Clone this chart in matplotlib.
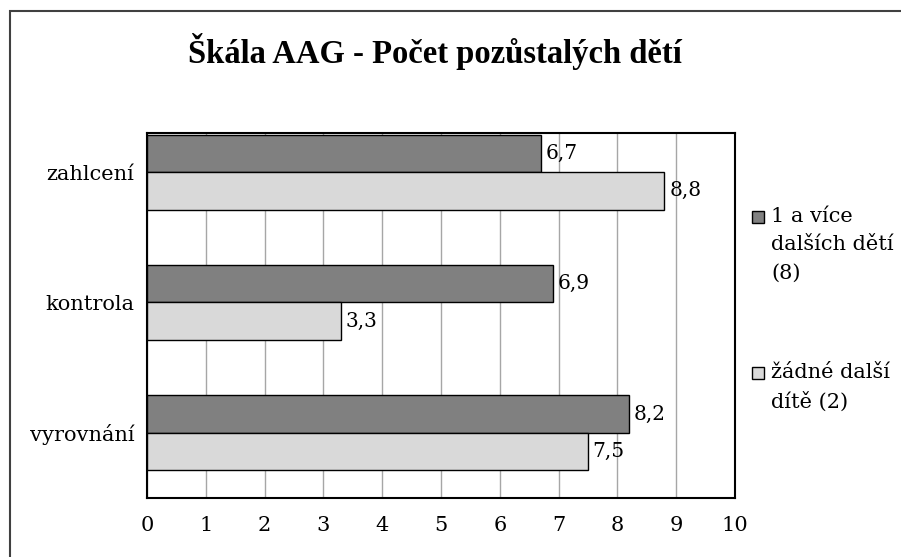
import matplotlib
matplotlib.use("Agg")
import matplotlib.pyplot as plt
from matplotlib.patches import Rectangle
import numpy as np

categories = ["zahlcení", "kontrola", "vyrovnání"]
series_names = ["1 a více\ndalších dětí\n(8)", "žádné další\ndítě (2)"]
values_more = [6.7, 6.9, 8.2]
values_none = [8.8, 3.3, 7.5]
xticks = [0, 1, 2, 3, 4, 5, 6, 7, 8, 9, 10]

colors = ["#808080", "#d9d9d9"]
FONT = "DejaVu Serif"

fig = plt.figure(figsize=(9.01, 5.57), dpi=100)
ax = fig.add_axes([147/901, 59/557, 588/901, 365/557])

y = np.arange(len(categories))
h = 0.287
for vals, off, col in [(values_more, -h/2, colors[0]), (values_none, h/2, colors[1])]:
    bars = ax.barh(y + off, vals, height=h, color=col, edgecolor="black", linewidth=1.0, zorder=3)
    for b, v in zip(bars, vals):
        ax.text(v + 0.08, b.get_y() + b.get_height()/2, f"{v:.1f}".replace(".", ","),
                va="center", ha="left", fontsize=14.5, family=FONT, zorder=4)

ax.set_xlim(0, 10)
ax.set_ylim(2.5, -0.3)
ax.set_xticks(xticks)
ax.set_xticklabels([str(t) for t in xticks], family=FONT, fontsize=15)
ax.set_yticks(y)
ax.set_yticklabels(categories, family=FONT, fontsize=15)
ax.tick_params(axis="x", length=0, pad=13)
ax.tick_params(axis="y", length=0, pad=9)
ax.grid(axis="x", color="#a6a6a6", linewidth=1.0, zorder=0)
for s in ax.spines.values():
    s.set_linewidth(1.5)
    s.set_color("black")

fig.text(435/901, 1 - 52/557, "Škála AAG - Počet pozůstalých dětí", ha="center", va="center",
         fontsize=23.5, fontweight="bold", family="Liberation Serif")

# outer frame
fig.patches.append(Rectangle((10/901, -0.1), 1.2, 1 - 11/557 + 0.1, transform=fig.transFigure,
                             fill=False, edgecolor="#404040", linewidth=1.5))

# legend
leg_pos = [217, 373]
for name, col, yy in zip(series_names, colors, leg_pos):
    fig.patches.append(Rectangle((752/901, 1 - (yy + 6)/557), 12/901, 12/557, transform=fig.transFigure,
                                 facecolor=col, edgecolor="black", linewidth=1.0))
    fig.text(771/901, 1 - (yy - 10)/557, name, ha="left", va="top", fontsize=15, family=FONT,
             linespacing=1.62)

fig.savefig("out.png", dpi=100)
